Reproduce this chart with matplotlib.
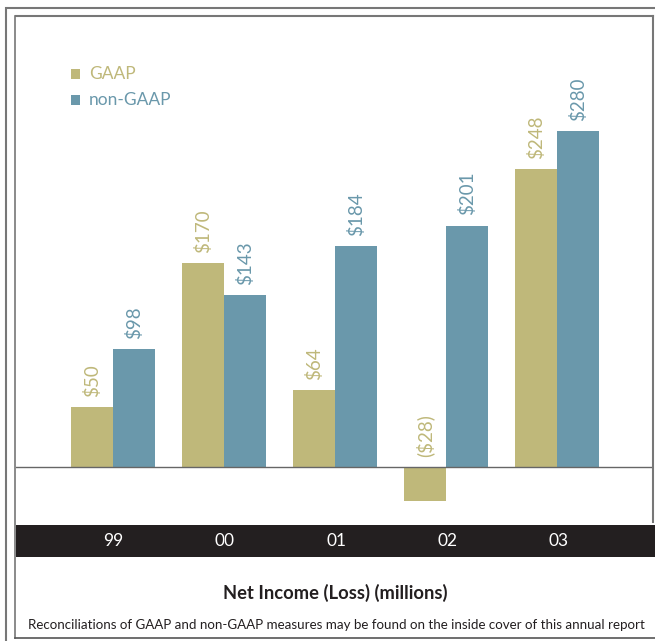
import matplotlib
matplotlib.use("Agg")
import matplotlib.pyplot as plt
from matplotlib.patches import Rectangle
from matplotlib.lines import Line2D
import numpy as np

plt.rcParams['font.family'] = ['Lato', 'DejaVu Sans']

years = ["99", "00", "01", "02", "03"]
gaap = [50, 170, 64, -28, 248]
non_gaap = [98, 143, 184, 201, 280]
gaap_labels = ["$50", "$170", "$64", "($28)", "$248"]
non_gaap_labels = ["$98", "$143", "$184", "$201", "$280"]
series_names = ["GAAP", "non-GAAP"]

c_gaap = "#BFB87A"
c_non = "#6A98AB"
c_band = "#231F20"

W, H = 655, 641
fig = plt.figure(figsize=(W / 100, H / 100), dpi=100)

def fx(px):
    return px / W

def fy(py):
    return 1 - py / H

# frames
fig.add_artist(Line2D([fx(8), fx(655)], [fy(8), fy(8)], color="#777777", lw=1.5))
fig.add_artist(Line2D([fx(6), fx(6)], [fy(8), fy(640)], color="#777777", lw=1.5))
fig.add_artist(Line2D([fx(16), fx(653)], [fy(16), fy(16)], color="#777777", lw=1.5))
fig.add_artist(Line2D([fx(15), fx(15)], [fy(16), fy(638)], color="#777777", lw=1.2))
fig.add_artist(Line2D([fx(653), fx(653)], [fy(16), fy(522)], color="#777777", lw=1.5))
fig.add_artist(Line2D([fx(15), fx(655)], [fy(638), fy(638)], color="#555555", lw=1.2))

# axes
ax_left, ax_right = 16, 653
ax_top, ax_bottom = 17, 525
ax = fig.add_axes([fx(ax_left), fy(ax_bottom), fx(ax_right - ax_left), (ax_bottom - ax_top) / H])
ax.set_axis_off()

x = np.arange(len(years))
group_px = 111.0
w = 42 / group_px
ax.set_xlim((ax_left - 113) / group_px, (ax_right - 113) / group_px)
scale = 1.2  # px per unit
base_px = 467
ax.set_ylim(-(ax_bottom - base_px) / scale, (base_px - ax_top) / scale)

ax.bar(x - w / 2, gaap, width=w, color=c_gaap, align="center", zorder=2)
ax.bar(x + w / 2, non_gaap, width=w, color=c_non, align="center", zorder=2)
ax.axhline(0, color="#666666", lw=1.0, zorder=3)

for i in range(len(years)):
    gy = max(gaap[i], 0)
    ax.annotate(gaap_labels[i], (x[i] - w / 2, gy), xytext=(0, 7.5), textcoords="offset points",
                rotation=90, ha="center", va="bottom", color=c_gaap, fontsize=13.5)
    ax.annotate(non_gaap_labels[i], (x[i] + w / 2, non_gaap[i]), xytext=(0, 7.5), textcoords="offset points",
                rotation=90, ha="center", va="bottom", color=c_non, fontsize=13.5)

# legend
for j, (name, col) in enumerate(zip(series_names, [c_gaap, c_non])):
    yy = 74 + j * 26
    fig.add_artist(Rectangle((fx(71), fy(yy + 4.5)), fx(9), 9 / H, color=col, lw=0))
    fig.text(fx(89), fy(yy), name, color=col, fontsize=12.5, va="center", ha="left")

# black band
band_top, band_bot = 525, 557
band = fig.add_axes([fx(16), fy(band_bot), fx(655 - 16), (band_bot - band_top) / H])
band.set_facecolor(c_band)
band.set_xlim(ax.get_xlim())
band.set_ylim(0, 1)
band.set_xticks([])
band.set_yticks([])
for s in band.spines.values():
    s.set_visible(False)
for i, yr in enumerate(years):
    band.text(x[i], 0.5, yr, color="white", ha="center", va="center", fontsize=12.5)

fig.text(fx(335), fy(593), "Net Income (Loss) (millions)", ha="center", va="center",
         fontsize=13.2, fontweight="bold", color="#231F20")
fig.text(fx(336), fy(625), "Reconciliations of GAAP and non-GAAP measures may be found on the inside cover of this annual report",
         ha="center", va="center", fontsize=9.6, color="#231F20")

fig.savefig("out.png", dpi=100)
